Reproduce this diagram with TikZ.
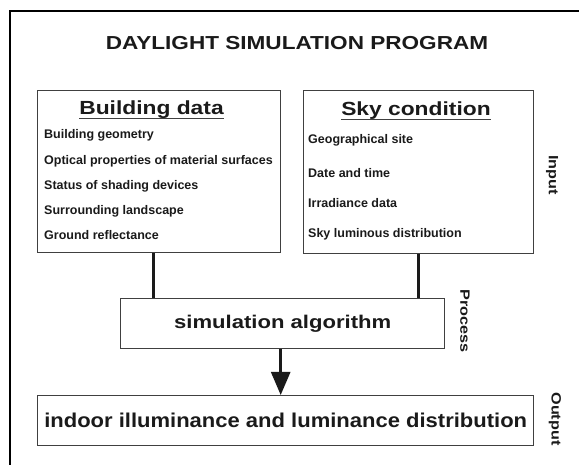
\documentclass[tikz,border=0pt]{standalone}
\usepackage{fontspec}
\setmainfont{Liberation Sans}[FakeStretch=1.2]
\newfontfamily\itemsans{Liberation Sans}
\newfontfamily\widesans{Liberation Sans}[FakeStretch=1.1]
\usetikzlibrary{arrows.meta}
\definecolor{ink}{HTML}{1A1A1A}
\definecolor{edge}{HTML}{404040}
\begin{document}
\begin{tikzpicture}[x=1pt, y=-1pt,
  panel/.style={draw=edge, line width=1.4pt, inner sep=0pt, anchor=north west},
  conn/.style={draw=ink, line width=2.6pt},
  titletext/.style={text=ink, inner sep=0pt, font=\fontsize{18.8}{20}\selectfont\bfseries},
  head/.style={text=ink, inner sep=0pt, anchor=base, font=\fontsize{19}{20}\selectfont\bfseries},
  item/.style={text=ink, inner sep=0pt, anchor=base west, font=\itemsans\fontsize{12.5}{14}\selectfont\bfseries},
  big/.style={text=ink, font=\fontsize{18.4}{20}\selectfont\bfseries},
  bigout/.style={text=ink, font=\widesans\fontsize{20}{22}\selectfont\bfseries},
  side/.style={text=ink, inner sep=0pt, rotate=-90, font=\fontsize{13.5}{15}\selectfont\bfseries},
  rule/.style={draw=edge, line width=1.3pt}]
\useasboundingbox (0,0) rectangle (579,465);
\clip (0,0) rectangle (579,465);

% outer frame (only its top and left sides fall on the page)
\draw[line width=2.2pt] (10,11) rectangle (600,490);

% title
\node[titletext, anchor=base] (title) at (297,50) {DAYLIGHT SIMULATION PROGRAM};

% input panels
\node[panel, minimum width=243pt, minimum height=162pt] (bd) at (37,90) {};
\node[panel, minimum width=230pt, minimum height=163pt] (sky) at (303,90) {};

\node[head] (bdh) at (151.5,115) {Building data};
\draw[rule] ([yshift=-3.5pt]bdh.base west) -- ([yshift=-3.5pt]bdh.base east);
\node[item] (b1) at (44,139) {Building geometry};
\node[item] (b2) at (44,164.3) {Optical properties of material surfaces};
\node[item] (b3) at (44,189.5) {Status of shading devices};
\node[item] (b4) at (44,214.8) {Surrounding landscape};
\node[item] (b5) at (44,240) {Ground reflectance};

\node[head] (skyh) at (416,116) {Sky condition};
\draw[rule] ([yshift=-3.5pt]skyh.base west) -- ([yshift=-3.5pt]skyh.base east);
\node[item] (s1) at (308,144) {Geographical site};
\node[item] (s2) at (308,178) {Date and time};
\node[item] (s3) at (308,208) {Irradiance data};
\node[item] (s4) at (308,238) {Sky luminous distribution};

% process and output
\node[panel, big, minimum width=324pt, minimum height=50pt] (sim) at (120,298) {simulation algorithm};
\node[panel, bigout, minimum width=496pt, minimum height=50pt] (out) at (37,395) {indoor illuminance and luminance distribution};

% connectors
\draw[conn] ([xshift=-5.5pt]bd.south) -- ([xshift=-5.5pt]bd.south |- sim.north);
\draw[conn] (sky.south) -- (sky.south |- sim.north);
\draw[conn, -{Triangle[width=19pt,length=23pt]}] ([xshift=-2pt]sim.south) -- ([xshift=-2pt]sim.south |- out.north);

% stage labels
\node[side] (linput) at (552,175) {Input};
\node[side] (lprocess) at (465,321) {Process};
\node[side] (loutput) at (555,419) {Output};
\end{tikzpicture}
\end{document}
